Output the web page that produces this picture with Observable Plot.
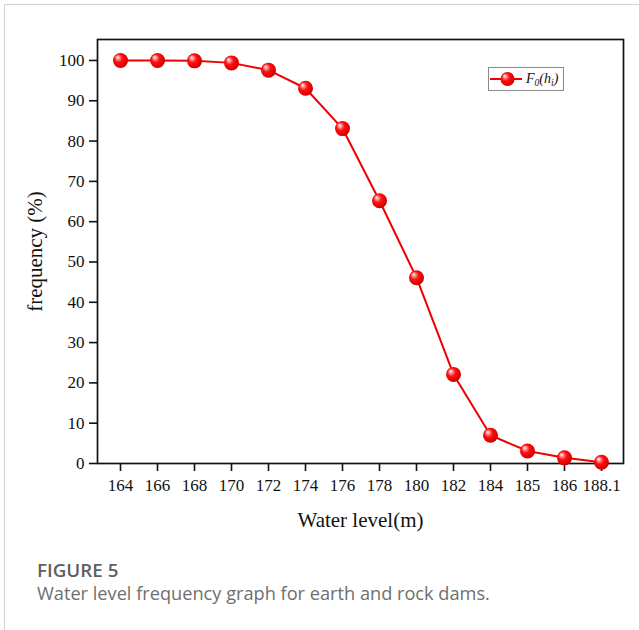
<!DOCTYPE html>
<html>
<head>
<meta charset="utf-8">
<script src="https://cdn.jsdelivr.net/npm/d3@7"></script>
<script src="https://cdn.jsdelivr.net/npm/@observablehq/plot@0.6"></script>
<style>
  body { margin: 0; background: #fff; width: 639px; height: 630px; overflow: hidden; position: relative; }
  #border { position: absolute; left: 4px; top: 4px; right: 0; bottom: 0; border-left: 1.5px solid #d2d2d2; border-top: 1.5px solid #d2d2d2; }
  #chart { position: absolute; left: 0; top: 0; }
  #legend { position: absolute; left: 488px; top: 67px; width: 74px; height: 22px; border: 1px solid #8a8a8a; background: #fff; }
  #legend svg { position: absolute; left: 0; top: 0; }
  #legend .lab { position: absolute; left: 37px; top: 1px; font-family: "Liberation Serif", serif; font-style: italic; font-size: 14px; line-height: 20px; color: #111; white-space: nowrap; }
  #legend sub { font-size: 9.5px; vertical-align: -3px; }
  .cap1 { position: absolute; left: 37px; top: 560px; font-family: "Open Sans", sans-serif; font-weight: 600; font-size: 18.8px; line-height: 20px; color: #5f5f5f; }
  .cap2 { position: absolute; left: 37px; top: 583px; font-family: "Open Sans", sans-serif; font-size: 18.2px; line-height: 20px; color: #6f6f6f; white-space: nowrap; }
</style>
</head>
<body>
<div id="border"></div>
<div id="chart"></div>
<div id="legend">
  <svg width="36" height="22"><line x1="1" x2="33" y1="11" y2="11" stroke="#ee0000" stroke-width="2"/><circle cx="18.5" cy="11" r="7" fill="url(#ball)"/></svg>
  <div class="lab">F<sub>0</sub>(h<sub>i</sub>)</div>
</div>
<div class="cap1">FIGURE 5</div>
<div class="cap2">Water level frequency graph for earth and rock dams.</div>
<script>
const levels = ["164","166","168","170","172","174","176","178","180","182","184","185","186","188.1"];
const frequency = [100, 100, 99.9, 99.4, 97.6, 93.1, 83.1, 65.2, 46.1, 22.1, 7.0, 3.1, 1.4, 0.3];
const yTicks = [0, 10, 20, 30, 40, 50, 60, 70, 80, 90, 100];
const xLabel = "Water level(m)";
const yLabel = "frequency (%)";

const data = levels.map((l, i) => ({level: l, freq: frequency[i]}));

const svg = Plot.plot({
  width: 639,
  height: 545,
  marginLeft: 97,
  marginRight: 16,
  marginTop: 39,
  marginBottom: 82,
  style: { fontFamily: "'Liberation Serif', serif", fontSize: "17px", color: "#111", background: "transparent" },
  x: { type: "point", domain: levels, padding: 0.5 },
  y: { domain: [0, 105.2] },
  marks: [
    Plot.axisX({ tickSize: 8, tickPadding: 7, strokeWidth: 1.6, fontSize: 17, label: null }),
    Plot.axisY({ ticks: yTicks, tickSize: 8, tickPadding: 5, strokeWidth: 1.6, fontSize: 17, label: null }),
    Plot.text([xLabel], { frameAnchor: "bottom", dy: 57, lineAnchor: "middle", textAnchor: "middle", fontSize: 21 }),
    Plot.text([yLabel], { frameAnchor: "left", rotate: -90, dx: -62, lineAnchor: "middle", textAnchor: "middle", fontSize: 21 }),
    Plot.frame({ stroke: "#111", strokeWidth: 1.7 }),
    Plot.line(data, { x: "level", y: "freq", stroke: "#ee0000", strokeWidth: 2 }),
    Plot.dot(data, { x: "level", y: "freq", r: 7.5, fill: "url(#ball)", stroke: "none" })
  ]
});

d3.select(svg).insert("defs", ":first-child").html(
  '<radialGradient id="ball" cx="0.45" cy="0.45" r="0.6" fx="0.3" fy="0.28">' +
  '<stop offset="0" stop-color="#ffffff"/>' +
  '<stop offset="0.18" stop-color="#ff9a9a"/>' +
  '<stop offset="0.45" stop-color="#ff1010"/>' +
  '<stop offset="0.85" stop-color="#e00000"/>' +
  '<stop offset="1" stop-color="#a80000"/>' +
  '</radialGradient>'
);

document.getElementById("chart").appendChild(svg);
</script>
</body>
</html>
